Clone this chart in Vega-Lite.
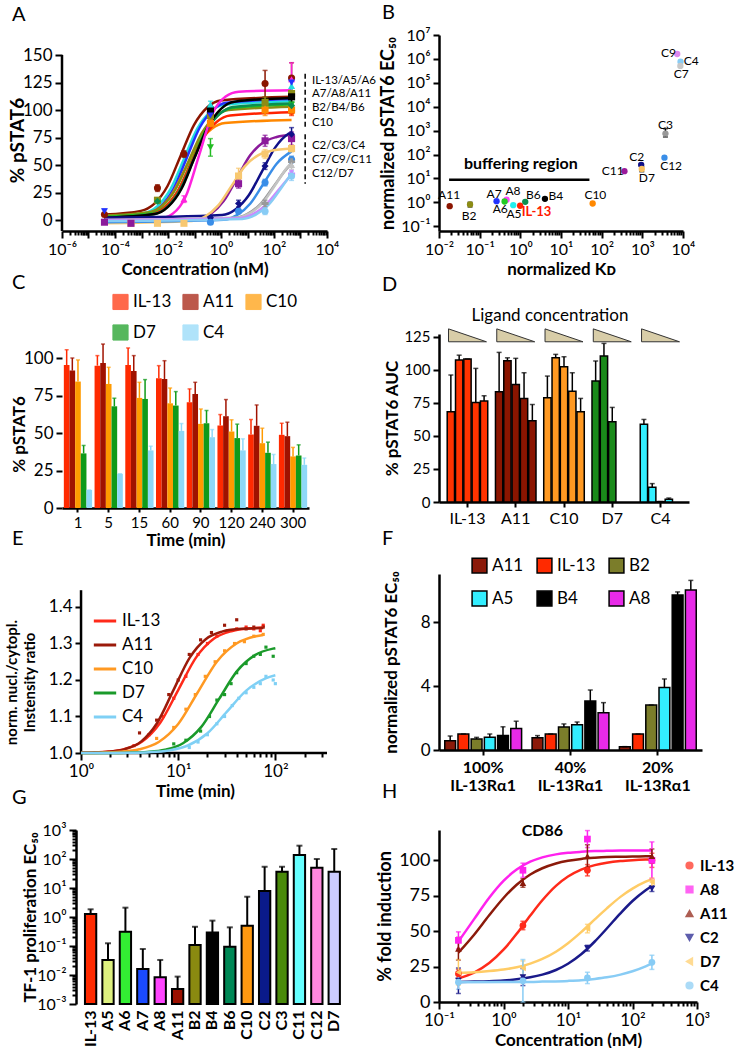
{
"$schema":"https://vega.github.io/schema/vega-lite/v6.json",
"padding":{"left":3,"top":3,"right":0,"bottom":0},
"config":{
 "font":"Lato",
 "view":{"stroke":null},
 "axis":{"domainColor":"#000","domainWidth":2.5,"tickColor":"#000","tickWidth":2,"tickSize":6,"labelColor":"#000","labelFontSize":16,"labelFont":"Lato","titleFont":"Lato","titleFontSize":17,"titleFontWeight":"bold","titleColor":"#000","grid":false,"labelPadding":3},
 "title":{"font":"Lato","fontSize":20,"fontWeight":"normal","anchor":"start","frame":"group","color":"#000"},
 "legend":{"labelFont":"Lato","labelFontSize":16,"labelColor":"#000"}
},
"resolve":{"scale":{"x":"independent","y":"independent","color":"independent","xOffset":"independent","shape":"independent","size":"independent"},"legend":{"color":"independent","shape":"independent","size":"independent"}},
"datasets":{
"one":[{}],
"aCurve":[
{"s":"A11","x":4e-5,"y":5},{"s":"A11","x":9.5e-4,"y":8.3},{"s":"A11","x":3e-3,"y":14.7},{"s":"A11","x":9.5e-3,"y":30.7},{"s":"A11","x":0.03,"y":58.5},{"s":"A11","x":0.095,"y":86.3},{"s":"A11","x":0.3,"y":102.3},{"s":"A11","x":0.95,"y":108.7},{"s":"A11","x":460,"y":112},
{"s":"A5","x":4e-5,"y":3},{"s":"A5","x":1.26e-3,"y":6.3},{"s":"A5","x":4e-3,"y":12.6},{"s":"A5","x":0.0126,"y":28.2},{"s":"A5","x":0.04,"y":55.5},{"s":"A5","x":0.126,"y":82.8},{"s":"A5","x":0.4,"y":98.4},{"s":"A5","x":1.26,"y":104.7},{"s":"A5","x":460,"y":108},
{"s":"A7","x":4e-5,"y":2},{"s":"A7","x":1.58e-3,"y":5.3},{"s":"A7","x":5e-3,"y":11.8},{"s":"A7","x":0.0158,"y":27.9},{"s":"A7","x":0.05,"y":56},{"s":"A7","x":0.158,"y":84.1},{"s":"A7","x":0.5,"y":100.2},{"s":"A7","x":1.58,"y":106.7},{"s":"A7","x":460,"y":110},
{"s":"C10","x":4e-5,"y":2},{"s":"C10","x":1.42e-3,"y":4.8},{"s":"C10","x":4.5e-3,"y":10.1},{"s":"C10","x":0.0142,"y":23.4},{"s":"C10","x":0.045,"y":46.5},{"s":"C10","x":0.142,"y":69.6},{"s":"C10","x":0.45,"y":82.9},{"s":"C10","x":1.42,"y":88.2},{"s":"C10","x":460,"y":91},
{"s":"B2","x":4e-5,"y":4},{"s":"B2","x":1.9e-3,"y":7.1},{"s":"B2","x":6e-3,"y":13},{"s":"B2","x":0.019,"y":27.8},{"s":"B2","x":0.06,"y":53.5},{"s":"B2","x":0.19,"y":79.2},{"s":"B2","x":0.6,"y":94},{"s":"B2","x":1.9,"y":99.9},{"s":"B2","x":460,"y":103},
{"s":"A6","x":4e-5,"y":3},{"s":"A6","x":2.5e-3,"y":6.2},{"s":"A6","x":8e-3,"y":12.3},{"s":"A6","x":0.025,"y":27.5},{"s":"A6","x":0.08,"y":54},{"s":"A6","x":0.25,"y":80.5},{"s":"A6","x":0.8,"y":95.7},{"s":"A6","x":2.5,"y":101.8},{"s":"A6","x":460,"y":105},
{"s":"IL-13","x":4e-5,"y":2},{"s":"IL-13","x":2.2e-3,"y":5},{"s":"IL-13","x":7e-3,"y":10.7},{"s":"IL-13","x":0.022,"y":25},{"s":"IL-13","x":0.07,"y":50},{"s":"IL-13","x":0.22,"y":75},{"s":"IL-13","x":0.7,"y":89.3},{"s":"IL-13","x":2.2,"y":95},{"s":"IL-13","x":460,"y":98},
{"s":"B6","x":4e-5,"y":2},{"s":"B6","x":2.8e-3,"y":5.2},{"s":"B6","x":9e-3,"y":11.5},{"s":"B6","x":0.028,"y":27},{"s":"B6","x":0.09,"y":54},{"s":"B6","x":0.28,"y":81},{"s":"B6","x":0.9,"y":96.5},{"s":"B6","x":2.8,"y":102.8},{"s":"B6","x":460,"y":106},
{"s":"B4","x":4e-5,"y":2},{"s":"B4","x":3.2e-3,"y":5.4},{"s":"B4","x":0.01,"y":11.9},{"s":"B4","x":0.032,"y":28.2},{"s":"B4","x":0.1,"y":56.5},{"s":"B4","x":0.32,"y":84.8},{"s":"B4","x":1,"y":101.1},{"s":"B4","x":3.2,"y":107.6},{"s":"B4","x":460,"y":111},
{"s":"A8","x":4e-5,"y":0},{"s":"A8","x":4.7e-3,"y":1.3},{"s":"A8","x":0.015,"y":5.7},{"s":"A8","x":0.047,"y":21.6},{"s":"A8","x":0.15,"y":59},{"s":"A8","x":0.47,"y":96.4},{"s":"A8","x":1.5,"y":112.3},{"s":"A8","x":4.7,"y":116.7},{"s":"A8","x":460,"y":118},
{"s":"C2","x":4e-5,"y":-2},{"s":"C2","x":0.126,"y":0.5},{"s":"C2","x":0.4,"y":5.3},{"s":"C2","x":1.26,"y":17.2},{"s":"C2","x":4,"y":38},{"s":"C2","x":12.6,"y":58.8},{"s":"C2","x":40,"y":70.7},{"s":"C2","x":126,"y":75.5},{"s":"C2","x":460,"y":77.5},
{"s":"C3","x":4e-5,"y":2},{"s":"C3","x":1.1,"y":4.6},{"s":"C3","x":3.5,"y":9.6},{"s":"C3","x":11,"y":22.2},{"s":"C3","x":35,"y":44},{"s":"C3","x":110,"y":65.8},{"s":"C3","x":350,"y":78.4},{"s":"C3","x":460,"y":80},
{"s":"D7","x":4e-5,"y":-3},{"s":"D7","x":0.079,"y":-0.9},{"s":"D7","x":0.25,"y":3.2},{"s":"D7","x":0.79,"y":13.3},{"s":"D7","x":2.5,"y":31},{"s":"D7","x":7.9,"y":48.7},{"s":"D7","x":25,"y":58.8},{"s":"D7","x":79,"y":62.9},{"s":"D7","x":460,"y":65},
{"s":"C4","x":4e-5,"y":-2},{"s":"C4","x":1.26,"y":0.2},{"s":"C4","x":4,"y":4.4},{"s":"C4","x":12.6,"y":14.8},{"s":"C4","x":40,"y":33},{"s":"C4","x":126,"y":51.2},{"s":"C4","x":460,"y":62.4},
{"s":"C7","x":4e-5,"y":0},{"s":"C7","x":3.2,"y":1.9},{"s":"C7","x":10,"y":5.6},{"s":"C7","x":32,"y":14.9},{"s":"C7","x":100,"y":31},{"s":"C7","x":316,"y":47.1},{"s":"C7","x":460,"y":51},
{"s":"C9","x":4e-5,"y":0},{"s":"C9","x":3.8,"y":2},{"s":"C9","x":12,"y":6},{"s":"C9","x":38,"y":15.8},{"s":"C9","x":120,"y":33},{"s":"C9","x":380,"y":50.2},{"s":"C9","x":460,"y":52},
{"s":"C11","x":4e-5,"y":0},{"s":"C11","x":4.7,"y":1.7},{"s":"C11","x":15,"y":5},{"s":"C11","x":47,"y":13.2},{"s":"C11","x":150,"y":27.5},{"s":"C11","x":460,"y":41.5},
{"s":"C12","x":4e-5,"y":-1},{"s":"C12","x":6.3,"y":0.9},{"s":"C12","x":20,"y":4.6},{"s":"C12","x":63,"y":13.9},{"s":"C12","x":200,"y":30},{"s":"C12","x":460,"y":42.4}
],
"aPts":[
{"s":"A11","x":4e-5,"y":5,"e":1},{"s":"A11","x":4e-3,"y":29,"e":3},{"s":"A11","x":0.04,"y":60,"e":3},{"s":"A11","x":46,"y":124,"e":12},{"s":"A11","x":460,"y":129,"e":14},
{"s":"B2","x":4e-3,"y":18,"e":2},{"s":"B2","x":0.4,"y":95,"e":4},{"s":"B2","x":46,"y":107,"e":5},{"s":"B2","x":460,"y":115,"e":5},
{"s":"IL-13","x":0.4,"y":98,"e":3},{"s":"IL-13","x":460,"y":99,"e":4},
{"s":"A6","x":0.4,"y":66,"e":8},{"s":"A6","x":460,"y":105,"e":5},
{"s":"D7","x":4e-4,"y":-3,"e":1},{"s":"D7","x":4e-3,"y":-3,"e":1},{"s":"D7","x":0.04,"y":-3,"e":1},{"s":"D7","x":4.6,"y":40,"e":7},{"s":"D7","x":46,"y":60,"e":4},{"s":"D7","x":460,"y":65,"e":3},
{"s":"C2","x":4e-5,"y":-2,"e":1},{"s":"C2","x":4e-4,"y":-3,"e":1},{"s":"C2","x":4.6,"y":33,"e":4},{"s":"C2","x":46,"y":72,"e":5},{"s":"C2","x":460,"y":74,"e":6},
{"s":"C3","x":0.4,"y":2,"e":1},{"s":"C3","x":4.6,"y":15,"e":3},{"s":"C3","x":46,"y":49,"e":3},{"s":"C3","x":460,"y":78,"e":6},
{"s":"C4","x":0.4,"y":-2,"e":1},{"s":"C4","x":4.6,"y":8,"e":2},{"s":"C4","x":46,"y":34,"e":3},{"s":"C4","x":460,"y":55,"e":3},
{"s":"A8","x":0.04,"y":19,"e":3},{"s":"A8","x":460,"y":128,"e":15},
{"s":"B4","x":0.4,"y":100,"e":4},{"s":"B4","x":460,"y":112,"e":5},
{"s":"C10","x":0.4,"y":88,"e":3},{"s":"C10","x":46,"y":100,"e":5},{"s":"C10","x":460,"y":100,"e":4},
{"s":"C7","x":46,"y":15,"e":3},{"s":"C7","x":460,"y":53,"e":4},
{"s":"C11","x":460,"y":42,"e":3},
{"s":"C12","x":46,"y":8,"e":3},{"s":"C12","x":460,"y":40,"e":4},
{"s":"A5","x":0.4,"y":105,"e":3},{"s":"A5","x":460,"y":122,"e":5},
{"s":"A7","x":4e-5,"y":8,"e":2},{"s":"A7","x":0.4,"y":95,"e":3},{"s":"A7","x":460,"y":125,"e":5},
{"s":"B6","x":4e-3,"y":17,"e":2},{"s":"B6","x":460,"y":104,"e":3},
{"s":"C9","x":460,"y":50,"e":4}
],
"aLab":[
{"t":"IL-13/A5/A6","x":2700,"y":126.5},{"t":"A7/A8/A11","x":2700,"y":114.5},{"t":"B2/B4/B6","x":2700,"y":101.5},{"t":"C10","x":2700,"y":88},{"t":"C2/C3/C4","x":2700,"y":67},{"t":"C7/C9/C11","x":2700,"y":55},{"t":"C12/D7","x":2700,"y":41.5}
],
"aDash":[{"x":1500,"y1":133,"y2":83},{"x":1500,"y1":78,"y2":33}],
"aAx":[{"x":1e-6,"y1":-10,"y2":150}],
"bPts":[
{"t":"A11","x":0.0183,"y":0.69},{"t":"B2","x":0.058,"y":0.81},{"t":"A7","x":0.26,"y":1.12},{"t":"A8","x":0.46,"y":1.28},{"t":"A6","x":0.41,"y":1.08},{"t":"A5","x":0.67,"y":0.76},{"t":"IL-13","x":0.99,"y":0.72},{"t":"B6","x":1.32,"y":1.05},{"t":"B4","x":4.03,"y":1.4},{"t":"C10","x":60,"y":0.89},{"t":"C11","x":363,"y":20},{"t":"C2","x":937,"y":37},{"t":"D7","x":970,"y":25},{"t":"C12","x":3500,"y":74},{"t":"C3","x":3700,"y":750},{"t":"C9","x":7200,"y":1600000},{"t":"C4","x":8700,"y":760000},{"t":"C7","x":8600,"y":510000}
],
"bErr":[{"x":0.058,"lo":0.63,"hi":1.0},{"x":970,"lo":19,"hi":31},{"x":3700,"lo":540,"hi":1200},{"x":937,"lo":34,"hi":42}],
"bLab":[
{"t":"A11","x":0.0177,"y":1.94},{"t":"B2","x":0.055,"y":0.28},{"t":"A7","x":0.227,"y":2.27},{"t":"A8","x":0.66,"y":3.1},{"t":"A6","x":0.32,"y":0.5},{"t":"A5","x":0.7,"y":0.31},{"t":"B6","x":2.1,"y":2.1},{"t":"B4","x":7.5,"y":1.76},{"t":"C10","x":70,"y":1.94},{"t":"C11","x":186,"y":20},{"t":"C2","x":730,"y":79},{"t":"D7","x":1290,"y":10.2},{"t":"C12","x":5100,"y":32},{"t":"C3","x":3700,"y":1780},{"t":"C9","x":4400,"y":1700000},{"t":"C4","x":16000,"y":800000},{"t":"C7","x":9100,"y":230000}
],
"bLab2":[{"t":"IL-13","x":2.5,"y":0.4}],
"bLab3":[{"t":"buffering region","x":1.03,"y":41}],
"bLine":[{"x":0.0177,"y":8.8},{"x":50,"y":8.8}],
"cBars":[
{"t":"1","s":"IL-13","v":95.3,"hi":105.5},{"t":"1","s":"A11","v":91.6,"hi":100},{"t":"1","s":"C10","v":84.3,"hi":98.7},{"t":"1","s":"D7","v":36.4,"hi":41.7},{"t":"1","s":"C4","v":12,"hi":12},
{"t":"5","s":"IL-13","v":94.9,"hi":101.6},{"t":"5","s":"A11","v":96.7,"hi":109.3},{"t":"5","s":"C10","v":82.7,"hi":93.8},{"t":"5","s":"D7","v":67.8,"hi":73.2},{"t":"5","s":"C4","v":22.8,"hi":22.8},
{"t":"15","s":"IL-13","v":95.3,"hi":106.7},{"t":"15","s":"A11","v":91.4,"hi":101.6},{"t":"15","s":"C10","v":73.4,"hi":83.8},{"t":"15","s":"D7","v":72.7,"hi":85.6},{"t":"15","s":"C4","v":38.4,"hi":41.2},
{"t":"60","s":"IL-13","v":86.5,"hi":94.9},{"t":"60","s":"A11","v":86,"hi":98.2},{"t":"60","s":"C10","v":69.8,"hi":80},{"t":"60","s":"D7","v":68.3,"hi":77.6},{"t":"60","s":"C4","v":51.4,"hi":56.3},
{"t":"90","s":"IL-13","v":70.5,"hi":79.4},{"t":"90","s":"A11","v":76,"hi":83.8},{"t":"90","s":"C10","v":56.1,"hi":66},{"t":"90","s":"D7","v":56.5,"hi":65},{"t":"90","s":"C4","v":47.2,"hi":52.3},
{"t":"120","s":"IL-13","v":55,"hi":62.3},{"t":"120","s":"A11","v":61.2,"hi":72.3},{"t":"120","s":"C10","v":51,"hi":58.8},{"t":"120","s":"D7","v":46.6,"hi":55.9},{"t":"120","s":"C4","v":38.4,"hi":46.1},
{"t":"240","s":"IL-13","v":49,"hi":59},{"t":"240","s":"A11","v":54.8,"hi":68.7},{"t":"240","s":"C10","v":43.2,"hi":53.2},{"t":"240","s":"D7","v":36.8,"hi":43.9},{"t":"240","s":"C4","v":29.3,"hi":35.7},
{"t":"300","s":"IL-13","v":48.8,"hi":56.5},{"t":"300","s":"A11","v":47.9,"hi":57.2},{"t":"300","s":"C10","v":34.4,"hi":40.4},{"t":"300","s":"D7","v":35,"hi":42.1},{"t":"300","s":"C4","v":28.8,"hi":33.3}
],
"dBars":[
{"g":"IL-13","i":1,"v":68.2,"hi":96},{"g":"IL-13","i":2,"v":107.3,"hi":111},{"g":"IL-13","i":3,"v":108.1,"hi":108.1},{"g":"IL-13","i":4,"v":75.3,"hi":101},{"g":"IL-13","i":5,"v":76.3,"hi":80.3},
{"g":"A11","i":1,"v":83.3,"hi":113.1},{"g":"A11","i":2,"v":106.8,"hi":109},{"g":"A11","i":3,"v":88.9,"hi":108.6},{"g":"A11","i":4,"v":78.3,"hi":97.7},{"g":"A11","i":5,"v":61.4,"hi":73.7},
{"g":"C10","i":1,"v":78.8,"hi":95.2},{"g":"C10","i":2,"v":109,"hi":111.6},{"g":"C10","i":3,"v":102.3,"hi":109.8},{"g":"C10","i":4,"v":83.8,"hi":97.7},{"g":"C10","i":5,"v":68.2,"hi":78.3},
{"g":"D7","i":1,"v":91.4,"hi":106.6},{"g":"D7","i":2,"v":110.4,"hi":119.9},{"g":"D7","i":3,"v":60.6,"hi":71.5},
{"g":"C4","i":1,"v":58.8,"hi":62.4},{"g":"C4","i":2,"v":11.1,"hi":13.9},{"g":"C4","i":3,"v":0.3,"hi":0.3},{"g":"C4","i":4,"v":2,"hi":3}
],
"dTri":[{"g":"IL-13","y":126},{"g":"A11","y":126},{"g":"C10","y":126},{"g":"D7","y":126},{"g":"C4","y":126}],
"dLab":[{"t":"Ligand concentration","g":"C10","y":140.6}],
"eAx":[{"x":1,"x2":1,"y":1.0,"y2":1.446},{"x":1,"x2":340,"y":1.0,"y2":1.0}],
"eCurve":[
{"s":"IL-13","x":1,"y":1.0007},{"s":"IL-13","x":1.19,"y":1.001},{"s":"IL-13","x":1.82,"y":1.0034},{"s":"IL-13","x":2.78,"y":1.0107},{"s":"IL-13","x":4.26,"y":1.0314},{"s":"IL-13","x":6.53,"y":1.0828},{"s":"IL-13","x":10,"y":1.1725},{"s":"IL-13","x":15.3,"y":1.262},{"s":"IL-13","x":23.4,"y":1.3136},{"s":"IL-13","x":36,"y":1.3344},{"s":"IL-13","x":55,"y":1.3416},{"s":"IL-13","x":75,"y":1.3435},
{"s":"A11","x":1,"y":1.0005},{"s":"A11","x":1.31,"y":1.001},{"s":"A11","x":1.92,"y":1.0034},{"s":"A11","x":2.82,"y":1.0106},{"s":"A11","x":4.14,"y":1.0312},{"s":"A11","x":6.07,"y":1.0823},{"s":"A11","x":8.91,"y":1.1715},{"s":"A11","x":13.1,"y":1.2607},{"s":"A11","x":19.2,"y":1.3118},{"s":"A11","x":28.2,"y":1.3324},{"s":"A11","x":41.4,"y":1.3396},{"s":"A11","x":75,"y":1.3423},
{"s":"C10","x":1,"y":1.0003},{"s":"C10","x":1.58,"y":1.001},{"s":"C10","x":2.51,"y":1.0033},{"s":"C10","x":3.98,"y":1.0102},{"s":"C10","x":6.31,"y":1.03},{"s":"C10","x":10,"y":1.0792},{"s":"C10","x":15.8,"y":1.165},{"s":"C10","x":25.1,"y":1.2508},{"s":"C10","x":39.8,"y":1.3},{"s":"C10","x":63.1,"y":1.3198},{"s":"C10","x":75,"y":1.3234},
{"s":"D7","x":1,"y":1.0},{"s":"D7","x":2.04,"y":1.0003},{"s":"D7","x":3.12,"y":1.0009},{"s":"D7","x":4.78,"y":1.0029},{"s":"D7","x":7.32,"y":1.0091},{"s":"D7","x":11.2,"y":1.0268},{"s":"D7","x":17.2,"y":1.0708},{"s":"D7","x":26.3,"y":1.1475},{"s":"D7","x":40.3,"y":1.2242},{"s":"D7","x":61.7,"y":1.2682},{"s":"D7","x":94.6,"y":1.2859},{"s":"D7","x":100,"y":1.2872},
{"s":"C4","x":1,"y":1.0},{"s":"C4","x":2,"y":1.0002},{"s":"C4","x":3.16,"y":1.0007},{"s":"C4","x":5.01,"y":1.0022},{"s":"C4","x":7.94,"y":1.007},{"s":"C4","x":12.6,"y":1.0205},{"s":"C4","x":20,"y":1.054},{"s":"C4","x":31.6,"y":1.1125},{"s":"C4","x":50.1,"y":1.171},{"s":"C4","x":79.4,"y":1.2045},{"s":"C4","x":100,"y":1.213}
],
"ePts":[
{"s":"IL-13","x":3.5,"y":1.02},{"s":"IL-13","x":5,"y":1.05},{"s":"IL-13","x":7,"y":1.1},{"s":"IL-13","x":9,"y":1.15},{"s":"IL-13","x":12,"y":1.21},{"s":"IL-13","x":16,"y":1.27},{"s":"IL-13","x":20,"y":1.3},{"s":"IL-13","x":25,"y":1.32},{"s":"IL-13","x":32,"y":1.335},{"s":"IL-13","x":40,"y":1.34},{"s":"IL-13","x":50,"y":1.345},{"s":"IL-13","x":60,"y":1.34},{"s":"IL-13","x":70,"y":1.335},{"s":"IL-13","x":75,"y":1.35},
{"s":"A11","x":4,"y":1.055},{"s":"A11","x":6,"y":1.09},{"s":"A11","x":8,"y":1.16},{"s":"A11","x":10,"y":1.2},{"s":"A11","x":13,"y":1.27},{"s":"A11","x":17,"y":1.31},{"s":"A11","x":22,"y":1.33},{"s":"A11","x":30,"y":1.35},{"s":"A11","x":40,"y":1.365},{"s":"A11","x":50,"y":1.34},{"s":"A11","x":60,"y":1.345},{"s":"A11","x":75,"y":1.345},
{"s":"C10","x":6,"y":1.04},{"s":"C10","x":9,"y":1.07},{"s":"C10","x":12,"y":1.12},{"s":"C10","x":15,"y":1.16},{"s":"C10","x":19,"y":1.21},{"s":"C10","x":24,"y":1.25},{"s":"C10","x":30,"y":1.28},{"s":"C10","x":38,"y":1.3},{"s":"C10","x":48,"y":1.305},{"s":"C10","x":60,"y":1.32},{"s":"C10","x":75,"y":1.325},
{"s":"D7","x":9,"y":1.025},{"s":"D7","x":12,"y":1.035},{"s":"D7","x":17,"y":1.06},{"s":"D7","x":21,"y":1.1},{"s":"D7","x":25,"y":1.145},{"s":"D7","x":30,"y":1.16},{"s":"D7","x":35,"y":1.19},{"s":"D7","x":40,"y":1.22},{"s":"D7","x":50,"y":1.245},{"s":"D7","x":60,"y":1.265},{"s":"D7","x":70,"y":1.27},{"s":"D7","x":80,"y":1.29},{"s":"D7","x":95,"y":1.265},
{"s":"C4","x":13,"y":1.015},{"s":"C4","x":16,"y":1.03},{"s":"C4","x":20,"y":1.05},{"s":"C4","x":25,"y":1.08},{"s":"C4","x":30,"y":1.1},{"s":"C4","x":36,"y":1.13},{"s":"C4","x":42,"y":1.15},{"s":"C4","x":50,"y":1.165},{"s":"C4","x":60,"y":1.18},{"s":"C4","x":70,"y":1.19},{"s":"C4","x":80,"y":1.21},{"s":"C4","x":95,"y":1.2},{"s":"C4","x":100,"y":1.19}
],
"fBars":[
{"g":"100%","s":"A11","v":0.58,"hi":0.875},{"g":"100%","s":"IL-13","v":1.0,"hi":1.0},{"g":"100%","s":"B2","v":0.69,"hi":0.79},{"g":"100%","s":"A5","v":0.8,"hi":1.0},{"g":"100%","s":"B4","v":0.9,"hi":1.45},{"g":"100%","s":"A8","v":1.35,"hi":1.8},
{"g":"40%","s":"A11","v":0.77,"hi":0.9},{"g":"40%","s":"IL-13","v":1.0,"hi":1.0},{"g":"40%","s":"B2","v":1.44,"hi":1.63},{"g":"40%","s":"A5","v":1.58,"hi":1.75},{"g":"40%","s":"B4","v":3.06,"hi":3.75},{"g":"40%","s":"A8","v":2.33,"hi":2.96},
{"g":"20%","s":"A11","v":0.21,"hi":0.21},{"g":"20%","s":"IL-13","v":1.0,"hi":1.0},{"g":"20%","s":"B2","v":2.81,"hi":2.81},{"g":"20%","s":"A5","v":3.9,"hi":4.44},{"g":"20%","s":"B4","v":9.69,"hi":9.88},{"g":"20%","s":"A8","v":10.0,"hi":10.6}
],
"gBars":[
{"k":"IL-13","v":1.27,"hi":1.84},{"k":"A5","v":0.033,"hi":0.124},{"k":"A6","v":0.31,"hi":2.1},{"k":"A7","v":0.016,"hi":0.079},{"k":"A8","v":0.0083,"hi":0.033},{"k":"A11","v":0.0033,"hi":0.0088},{"k":"B2","v":0.108,"hi":0.46},{"k":"B4","v":0.29,"hi":0.75},{"k":"B6","v":0.095,"hi":0.44},{"k":"C10","v":0.5,"hi":5.0},{"k":"C2","v":7.9,"hi":54},{"k":"C3","v":36.6,"hi":54},{"k":"C11","v":138,"hi":288},{"k":"C12","v":50,"hi":100},{"k":"D7","v":36.6,"hi":221}
],
"hCurve":[
{"s":"A8","x":0.2,"y":42.7},{"s":"A8","x":0.35,"y":58.5},{"s":"A8","x":0.6,"y":73.6},{"s":"A8","x":1,"y":85.5},{"s":"A8","x":1.6,"y":93.5},{"s":"A8","x":2.6,"y":99},{"s":"A8","x":4,"y":102.1},{"s":"A8","x":6.5,"y":104.2},{"s":"A8","x":10,"y":105.3},{"s":"A8","x":16,"y":106},{"s":"A8","x":26,"y":106.5},{"s":"A8","x":40,"y":106.7},{"s":"A8","x":65,"y":106.9},{"s":"A8","x":100,"y":107},{"s":"A8","x":160,"y":107},{"s":"A8","x":200,"y":107},
{"s":"A11","x":0.2,"y":34.8},{"s":"A11","x":0.35,"y":47.5},{"s":"A11","x":0.6,"y":61.2},{"s":"A11","x":1,"y":73.4},{"s":"A11","x":1.6,"y":82.8},{"s":"A11","x":2.6,"y":90},{"s":"A11","x":4,"y":94.4},{"s":"A11","x":6.5,"y":97.8},{"s":"A11","x":10,"y":99.7},{"s":"A11","x":16,"y":101},{"s":"A11","x":26,"y":101.8},{"s":"A11","x":40,"y":102.3},{"s":"A11","x":65,"y":102.5},{"s":"A11","x":100,"y":102.7},{"s":"A11","x":160,"y":102.8},{"s":"A11","x":200,"y":102.9},
{"s":"IL-13","x":0.2,"y":16.7},{"s":"IL-13","x":0.35,"y":20.8},{"s":"IL-13","x":0.6,"y":27.5},{"s":"IL-13","x":1,"y":36.9},{"s":"IL-13","x":1.6,"y":48.1},{"s":"IL-13","x":2.6,"y":61},{"s":"IL-13","x":4,"y":71.8},{"s":"IL-13","x":6.5,"y":82},{"s":"IL-13","x":10,"y":88.6},{"s":"IL-13","x":16,"y":93.5},{"s":"IL-13","x":26,"y":96.6},{"s":"IL-13","x":40,"y":98.3},{"s":"IL-13","x":65,"y":99.5},{"s":"IL-13","x":100,"y":100.1},{"s":"IL-13","x":160,"y":100.5},{"s":"IL-13","x":200,"y":100.6},
{"s":"D7","x":0.2,"y":20.6},{"s":"D7","x":0.35,"y":21},{"s":"D7","x":0.6,"y":21.8},{"s":"D7","x":1,"y":22.9},{"s":"D7","x":1.6,"y":24.5},{"s":"D7","x":2.6,"y":27.1},{"s":"D7","x":4,"y":30.4},{"s":"D7","x":6.5,"y":35.5},{"s":"D7","x":10,"y":41.5},{"s":"D7","x":16,"y":49.3},{"s":"D7","x":26,"y":58.3},{"s":"D7","x":40,"y":66.1},{"s":"D7","x":65,"y":74.2},{"s":"D7","x":100,"y":80},{"s":"D7","x":160,"y":84.9},{"s":"D7","x":200,"y":86.7},
{"s":"C2","x":0.2,"y":14.2},{"s":"C2","x":0.35,"y":14.4},{"s":"C2","x":0.6,"y":14.7},{"s":"C2","x":1,"y":15.2},{"s":"C2","x":1.6,"y":16},{"s":"C2","x":2.6,"y":17.4},{"s":"C2","x":4,"y":19.3},{"s":"C2","x":6.5,"y":22.6},{"s":"C2","x":10,"y":27},{"s":"C2","x":16,"y":33.7},{"s":"C2","x":26,"y":42.7},{"s":"C2","x":40,"y":51.9},{"s":"C2","x":65,"y":62.6},{"s":"C2","x":100,"y":71.3},{"s":"C2","x":160,"y":78.9},{"s":"C2","x":200,"y":81.9},
{"s":"C4","x":0.2,"y":14},{"s":"C4","x":1,"y":14.1},{"s":"C4","x":2.6,"y":14.2},{"s":"C4","x":4,"y":14.4},{"s":"C4","x":10,"y":14.9},{"s":"C4","x":16,"y":15.4},{"s":"C4","x":26,"y":16.3},{"s":"C4","x":40,"y":17.4},{"s":"C4","x":65,"y":19.3},{"s":"C4","x":100,"y":21.7},{"s":"C4","x":160,"y":25.1},{"s":"C4","x":200,"y":27.2}
],
"hPts":[
{"s":"IL-13","x":0.2,"y":20,"e":3},{"s":"IL-13","x":2,"y":54,"e":3},{"s":"IL-13","x":20,"y":93,"e":4},{"s":"IL-13","x":200,"y":100,"e":5},
{"s":"A8","x":0.2,"y":43.5,"e":6},{"s":"A8","x":2,"y":93,"e":5},{"s":"A8","x":20,"y":115,"e":6},{"s":"A8","x":200,"y":100,"e":13},
{"s":"A11","x":0.2,"y":37.6,"e":8},{"s":"A11","x":2,"y":84,"e":3},{"s":"A11","x":20,"y":103,"e":8},{"s":"A11","x":200,"y":103,"e":5},
{"s":"C2","x":0.2,"y":15,"e":9},{"s":"C2","x":2,"y":17.6,"e":6},{"s":"C2","x":20,"y":38,"e":2},{"s":"C2","x":200,"y":80,"e":2},
{"s":"D7","x":0.2,"y":21,"e":9},{"s":"D7","x":2,"y":24,"e":5},{"s":"D7","x":20,"y":51.8,"e":3},{"s":"D7","x":200,"y":84.7,"e":3},
{"s":"C4","x":0.2,"y":14,"e":5},{"s":"C4","x":2,"y":15,"e":15},{"s":"C4","x":20,"y":17,"e":4},{"s":"C4","x":200,"y":28,"e":5}
],
"hText":[{"t":"CD86","x":4,"y":121}]
},
"columns":2,
"align":"each",
"bounds":"flush",
"spacing":{"row":0,"column":97},
"concat":[
{"width":265,"height":196,
 "title":{"text":"A","offset":10,"dx":-50},
 "encoding":{
  "x":{"field":"x","type":"quantitative","scale":{"type":"log","domain":[1e-6,1e4]},"axis":{"values":[1e-6,2e-6,3e-6,4e-6,5e-6,6e-6,7e-6,8e-6,9e-6,1e-5,2e-5,3e-5,4e-5,5e-5,6e-5,7e-5,8e-5,9e-5,1e-4,2e-4,3e-4,4e-4,5e-4,6e-4,7e-4,8e-4,9e-4,1e-3,2e-3,3e-3,4e-3,5e-3,6e-3,7e-3,8e-3,9e-3,0.01,0.02,0.03,0.04,0.05,0.06,0.07,0.08,0.09,0.1,0.2,0.3,0.4,0.5,0.6,0.7,0.8,0.9,1,2,3,4,5,6,7,8,9,10,20,30,40,50,60,70,80,90,100,200,300,400,500,600,700,800,900,1000,2000,3000,4000,5000,6000,7000,8000,9000,10000],"labelExpr":"abs(log(datum.value)/LN10-round(log(datum.value)/LN10))<0.01 && round(log(datum.value)/LN10)%2==0 ? '10'+(datum.value<1?'⁻':'')+substring('⁰¹²³⁴⁵⁶⁷⁸⁹',abs(round(log(datum.value)/LN10)),abs(round(log(datum.value)/LN10))+1) : ''","tickSize":{"condition":{"test":"abs(log(datum.value)/LN10-round(log(datum.value)/LN10))<0.01","value":7},"value":4},"labelFlush":false,"labelOverlap":false,"title":"Concentration (nM)","labelFontSize":16,"titleFontSize":17}},
  "y":{"field":"y","type":"quantitative","scale":{"domain":[-10,168.2],"nice":false,"zero":false},"axis":{"values":[0,25,50,75,100,125,150],"title":"% pSTAT6","titleX":-35,"titleY":105,"domain":false,"tickSize":7,"labelFontSize":17,"titleFontSize":19}},
  "color":{"field":"s","type":"nominal","scale":{"domain":["IL-13","A5","A6","A7","A8","A11","B2","B4","B6","C10","C2","C3","D7","C4","C7","C9","C11","C12"],"range":["#ff2200","#22dddd","#22bb22","#2233ff","#ff22dd","#8b1500","#8c8c14","#000000","#0b8f50","#ff8800","#8b1a9b","#101088","#f8c870","#3a8ee8","#999999","#c4c4c4","#cc88ff","#88ccf5"]},"legend":null}
 },
 "layer":[
  {"data":{"name":"aAx"},"mark":{"type":"rule","strokeWidth":2.5},"encoding":{"y":{"field":"y1","type":"quantitative"},"y2":{"field":"y2"},"color":{"value":"#000"}}},
  {"data":{"name":"aCurve"},"mark":{"type":"line","interpolate":"monotone","strokeWidth":2.5}},
  {"data":{"name":"aPts"},"mark":{"type":"errorbar","ticks":true,"thickness":1.5},"encoding":{"yError":{"field":"e"}}},
  {"data":{"name":"aPts"},"mark":{"type":"point","filled":true,"size":50,"opacity":1},"encoding":{"shape":{"field":"s","type":"nominal","scale":{"domain":["IL-13","A5","A6","A7","A8","A11","B2","B4","B6","C10","C2","C3","D7","C4","C7","C9","C11","C12"],"range":["circle","triangle-up","triangle-down","triangle-down","triangle-up","circle","square","square","diamond","square","square","diamond","square","circle","cross","triangle-up","cross","circle"]},"legend":null}}},
  {"data":{"name":"aDash"},"mark":{"type":"rule","strokeDash":[5,3],"strokeWidth":1.5},"encoding":{"y":{"field":"y1","type":"quantitative"},"y2":{"field":"y2"},"color":{"value":"#000"}}},
  {"data":{"name":"aLab"},"mark":{"type":"text","align":"left","fontSize":11.5},"encoding":{"text":{"field":"t"},"color":{"value":"#000"}}}
 ]
},
{"width":244,"height":196,
 "title":{"text":"B","dx":-57,"offset":4},
 "encoding":{
  "x":{"field":"x","type":"quantitative","scale":{"type":"log","domain":[0.01,1e4]},"axis":{"values":[0.01,0.02,0.03,0.04,0.05,0.06,0.07,0.08,0.09,0.1,0.2,0.3,0.4,0.5,0.6,0.7,0.8,0.9,1,2,3,4,5,6,7,8,9,10,20,30,40,50,60,70,80,90,100,200,300,400,500,600,700,800,900,1000,2000,3000,4000,5000,6000,7000,8000,9000,10000],"labelExpr":"abs(log(datum.value)/LN10-round(log(datum.value)/LN10))<0.01 ? '10'+(datum.value<1?'⁻':'')+substring('⁰¹²³⁴⁵⁶⁷⁸⁹',abs(round(log(datum.value)/LN10)),abs(round(log(datum.value)/LN10))+1) : ''","tickSize":{"condition":{"test":"abs(log(datum.value)/LN10-round(log(datum.value)/LN10))<0.01","value":7},"value":4},"labelFlush":false,"labelOverlap":false,"title":"normalized Kᴅ","labelFontSize":16,"titleFontSize":17}},
  "y":{"field":"y","type":"quantitative","scale":{"type":"log","domain":[0.063,1e7],"nice":false},"axis":{"values":[0.1,1,10,100,1000,10000,100000,1000000,10000000],"labelExpr":"abs(log(datum.value)/LN10-round(log(datum.value)/LN10))<0.01 ? '10'+(datum.value<1?'⁻':'')+substring('⁰¹²³⁴⁵⁶⁷⁸⁹',abs(round(log(datum.value)/LN10)),abs(round(log(datum.value)/LN10))+1) : ''","labelOverlap":false,"title":"normalized pSTAT6 EC₅₀","titleX":-42,"tickSize":6,"labelFontSize":16,"titleFontSize":18}}
 },
 "layer":[
  {"data":{"name":"bLine"},"mark":{"type":"line","color":"#000","strokeWidth":2.5}},
  {"data":{"name":"bErr"},"mark":{"type":"errorbar","ticks":true,"color":"#000","thickness":1.5},"encoding":{"y":{"field":"lo","type":"quantitative"},"y2":{"field":"hi"}}},
  {"data":{"name":"bPts"},"mark":{"type":"point","filled":true,"size":40,"opacity":1},"encoding":{"color":{"field":"t","type":"nominal","scale":{"domain":["A11","B2","A7","A8","A6","A5","IL-13","B6","B4","C10","C11","C2","D7","C12","C3","C9","C4","C7"],"range":["#8b1500","#8c8c14","#2233ff","#ff44ff","#22cc22","#22eeee","#ff2200","#0b8f50","#000000","#ff8800","#9b1a9b","#101088","#f8c060","#3a8ee8","#999999","#dd88ee","#88ccf5","#c8c8c8"]},"legend":null}}},
  {"data":{"name":"bLab"},"mark":{"type":"text","fontSize":12,"color":"#000"},"encoding":{"text":{"field":"t"}}},
  {"data":{"name":"bLab2"},"mark":{"type":"text","fontSize":13,"fontWeight":"bold","color":"#ff1a00"},"encoding":{"text":{"field":"t"}}},
  {"data":{"name":"bLab3"},"mark":{"type":"text","fontSize":16,"fontWeight":"bold","color":"#000"},"encoding":{"text":{"field":"t"}}}
 ]
},
{"width":1,"height":103,"data":{"name":"one"},"mark":{"type":"point","opacity":0},"encoding":{}},
{"width":1,"height":103,"data":{"name":"one"},"mark":{"type":"point","opacity":0},"encoding":{}},
{"width":247,"height":174,
 "title":{"text":"C","dx":-50,"offset":0},
 "encoding":{
  "x":{"field":"t","type":"nominal","sort":null,"scale":{"domain":["1","5","15","60","90","120","240","300"],"paddingInner":0.08,"paddingOuter":0.06},"axis":{"labelAngle":0,"title":"Time (min)","domain":true,"labelFontSize":15,"titleFontSize":17,"tickSize":4,"titlePadding":2}},
  "y":{"field":"v","type":"quantitative","scale":{"domain":[0,116],"nice":false},"axis":{"values":[0,25,50,75,100],"title":"% pSTAT6","titleX":-34,"titleY":100,"domain":false,"labelFontSize":17,"titleFontSize":17,"tickSize":6}}
 },
 "layer":[
  {"data":{"name":"one"},"mark":{"type":"rule","strokeWidth":2.5,"color":"#000"},"encoding":{"x":{"datum":"1","bandPosition":-0.0655},"y":{"datum":0},"y2":{"datum":109.3}}},
  {"data":{"name":"cBars"},"mark":{"type":"bar"},"encoding":{"xOffset":{"field":"s","type":"nominal","sort":null,"scale":{"domain":["IL-13","A11","C10","D7","C4"],"paddingInner":0}},"color":{"field":"s","type":"nominal","scale":{"domain":["IL-13","A11","C10","D7","C4"],"range":["#ff2a00","#a01200","#ff9a00","#0f9a1a","#8fd8f8"]},"legend":{"orient":"none","legendX":50,"legendY":-41,"columns":3,"direction":"horizontal","title":null,"symbolType":"square","symbolSize":230,"symbolStrokeColor":"#000","symbolStrokeWidth":1,"labelFontSize":17,"columnPadding":8,"rowPadding":10}}}},
  {"data":{"name":"cBars"},"mark":{"type":"rule","strokeWidth":1.5},"encoding":{"xOffset":{"field":"s","type":"nominal","sort":null},"color":{"field":"s","type":"nominal"},"y2":{"field":"hi"}}},
  {"data":{"name":"cBars"},"mark":{"type":"tick","orient":"horizontal","size":4,"thickness":1.5},"encoding":{"xOffset":{"field":"s","type":"nominal","sort":null},"color":{"field":"s","type":"nominal"},"y":{"field":"hi","type":"quantitative"}}}
 ]
},
{"width":250,"height":168,
 "title":{"text":"D","dx":-57,"offset":12},
 "encoding":{
  "x":{"field":"g","type":"nominal","sort":null,"scale":{"domain":["IL-13","A11","C10","D7","C4"],"paddingInner":0.16,"paddingOuter":0.17},"axis":{"labelAngle":0,"title":null,"labelFontSize":16,"tickSize":5}},
  "y":{"field":"v","type":"quantitative","scale":{"domain":[0,127],"nice":false},"axis":{"values":[0,25,50,75,100,125],"title":"% pSTAT6 AUC","titleX":-38,"labelFontSize":15,"titleFontSize":17,"tickSize":6}}
 },
 "layer":[
  {"data":{"name":"dBars"},"mark":{"type":"bar","stroke":"#000","strokeWidth":1.5},"encoding":{"xOffset":{"field":"i","type":"nominal","scale":{"paddingInner":0.12}},"color":{"field":"g","type":"nominal","scale":{"domain":["IL-13","A11","C10","D7","C4"],"range":["#ff3300","#8b1500","#ff9922","#1a8a1a","#33eeff"]},"legend":null}}},
  {"data":{"name":"dBars"},"mark":{"type":"rule","color":"#000","strokeWidth":1.5},"encoding":{"xOffset":{"field":"i","type":"nominal"},"y2":{"field":"hi"}}},
  {"data":{"name":"dBars"},"mark":{"type":"tick","orient":"horizontal","size":5,"thickness":1.5,"color":"#000"},"encoding":{"xOffset":{"field":"i","type":"nominal"},"y":{"field":"hi","type":"quantitative"}}},
  {"data":{"name":"dTri"},"mark":{"type":"point","shape":"M-1,-0.34L1,0.34L-1,0.34Z","size":1440,"filled":true,"fill":"#d8cda8","stroke":"#333333","strokeWidth":1,"opacity":1},"encoding":{"y":{"field":"y","type":"quantitative"}}},
  {"data":{"name":"dLab"},"mark":{"type":"text","fontSize":17,"dx":-14,"color":"#000"},"encoding":{"y":{"field":"y","type":"quantitative"},"text":{"field":"t"}}}
 ]
},
{"width":1,"height":66,"data":{"name":"one"},"mark":{"type":"point","opacity":0},"encoding":{}},
{"width":1,"height":66,"data":{"name":"one"},"mark":{"type":"point","opacity":0},"encoding":{}},
{"width":265,"height":179,
 "title":{"text":"E","dx":-50,"offset":25},
 "encoding":{
  "x":{"field":"x","type":"quantitative","scale":{"type":"log","domain":[0.637,340]},"axis":{"values":[1,2,3,4,5,6,7,8,9,10,20,30,40,50,60,70,80,90,100,200,300],"domain":false,"labelExpr":"abs(log(datum.value)/LN10-round(log(datum.value)/LN10))<0.01 ? '10'+(datum.value<1?'⁻':'')+substring('⁰¹²³⁴⁵⁶⁷⁸⁹',abs(round(log(datum.value)/LN10)),abs(round(log(datum.value)/LN10))+1) : ''","tickSize":{"condition":{"test":"abs(log(datum.value)/LN10-round(log(datum.value)/LN10))<0.01","value":7},"value":4},"labelFlush":false,"labelOverlap":false,"title":"Time (min)","titleX":133,"labelFontSize":17,"titleFontSize":17}},
  "y":{"field":"y","type":"quantitative","scale":{"domain":[1.0,1.4904],"zero":false,"nice":false},"axis":{"values":[1.0,1.1,1.2,1.3,1.4],"format":".1f","domain":false,"offset":-19,"title":["norm. nucl./cytopl.","Instensity ratio"],"titleX":-62,"titleY":108,"titleLineHeight":18,"labelFontSize":17,"titleFontSize":15,"tickSize":6}},
  "color":{"field":"s","type":"nominal","scale":{"domain":["IL-13","A11","C10","D7","C4"],"range":["#ff2a1a","#9b1a0a","#ff9922","#1a9a2a","#7fd0f5"]},"legend":{"orient":"none","legendX":30,"legendY":34,"title":null,"symbolType":"stroke","symbolStrokeWidth":3,"symbolSize":500,"labelFontSize":17,"rowPadding":3,"labelOffset":4}}
 },
 "layer":[
  {"data":{"name":"eAx"},"mark":{"type":"rule","strokeWidth":2.5},"encoding":{"x2":{"field":"x2"},"y2":{"field":"y2"},"color":{"value":"#000"}}},
  {"data":{"name":"ePts"},"mark":{"type":"point","filled":true,"size":10,"shape":"square","opacity":1}},
  {"data":{"name":"eCurve"},"mark":{"type":"line","interpolate":"monotone","strokeWidth":2.5}}
 ]
},
{"width":263,"height":176,
 "title":{"text":"F","dx":-57,"offset":8},
 "data":{"name":"fBars"},
 "encoding":{
  "x":{"field":"g","type":"nominal","sort":null,"scale":{"paddingInner":0.12,"paddingOuter":0.066},"axis":{"labelAngle":0,"title":null,"labelExpr":"[datum.label, 'IL-13Rα1']","labelFontWeight":"bold","labelFontSize":16,"tickSize":5,"labelPadding":4}},
  "xOffset":{"field":"s","type":"nominal","sort":null,"scale":{"domain":["A11","IL-13","B2","A5","B4","A8"],"paddingInner":0.18}}
 },
 "layer":[
  {"mark":{"type":"bar","stroke":"#000","strokeWidth":1.5},"encoding":{"y":{"field":"v","type":"quantitative","scale":{"domain":[0,11],"nice":false},"axis":{"values":[0,2,4,6,8,10],"title":"normalized pSTAT6 EC₅₀","titleX":-39,"labelFontSize":17,"titleFontSize":17,"tickSize":6}},"color":{"field":"s","type":"nominal","scale":{"domain":["A11","IL-13","B2","A5","B4","A8"],"range":["#8b1a0a","#ff2a00","#7b7d2a","#33eeff","#000000","#e82ae8"]},"legend":{"orient":"none","legendX":32,"legendY":-17,"columns":3,"direction":"horizontal","title":null,"symbolType":"square","symbolSize":220,"symbolStrokeColor":"#000","symbolStrokeWidth":1.5,"labelFontSize":17,"columnPadding":10,"rowPadding":12}}}},
  {"mark":{"type":"rule","color":"#000","strokeWidth":1.5},"encoding":{"y":{"field":"v","type":"quantitative"},"y2":{"field":"hi"}}},
  {"mark":{"type":"tick","orient":"horizontal","size":5,"thickness":1.5,"color":"#000"},"encoding":{"y":{"field":"hi","type":"quantitative"}}}
 ]
},
{"width":1,"height":77,"data":{"name":"one"},"mark":{"type":"point","opacity":0},"encoding":{}},
{"width":1,"height":77,"data":{"name":"one"},"mark":{"type":"point","opacity":0},"encoding":{}},
{"width":280,"height":174,
 "title":{"text":"G","dx":-50,"offset":14},
 "encoding":{"x":{"field":"k","type":"nominal","sort":null,"scale":{"domain":["IL-13","A5","A6","A7","A8","A11","B2","B4","B6","C10","C2","C3","C11","C12","D7"],"paddingInner":0.35,"paddingOuter":0.72,"align":0.916},"axis":{"labelAngle":-90,"title":null,"domain":false,"labelFontWeight":"bold","labelFontSize":16,"ticks":false,"labelPadding":6}},
  "y":{"field":"v","type":"quantitative","scale":{"type":"log","domain":[0.001,1000]},"axis":{"values":[0.001,0.002,0.003,0.004,0.005,0.006,0.007,0.008,0.009,0.01,0.02,0.03,0.04,0.05,0.06,0.07,0.08,0.09,0.1,0.2,0.3,0.4,0.5,0.6,0.7,0.8,0.9,1,2,3,4,5,6,7,8,9,10,20,30,40,50,60,70,80,90,100,200,300,400,500,600,700,800,900,1000],"offset":-14,"labelExpr":"abs(log(datum.value)/LN10-round(log(datum.value)/LN10))<0.01 ? '10'+(datum.value<1?'⁻':'')+substring('⁰¹²³⁴⁵⁶⁷⁸⁹',abs(round(log(datum.value)/LN10)),abs(round(log(datum.value)/LN10))+1) : ''","tickSize":{"condition":{"test":"abs(log(datum.value)/LN10-round(log(datum.value)/LN10))<0.01","value":7},"value":4},"labelOverlap":false,"title":"TF-1 proliferation EC₅₀","titleX":-37,"labelFontSize":16,"titleFontSize":17}}},
 "layer":[
  {"data":{"name":"gBars"},"mark":{"type":"bar","stroke":"#000","strokeWidth":2},"encoding":{"y2":{"datum":0.001},"color":{"field":"k","type":"nominal","scale":{"domain":["IL-13","A5","A6","A7","A8","A11","B2","B4","B6","C10","C2","C3","C11","C12","D7"],"range":["#ff2a00","#ddf07f","#33ee33","#1a4aff","#ff44ff","#9b1000","#8a8a10","#000000","#008855","#ff9911","#0a1a8a","#4a8a0a","#66ffff","#ff88dd","#ccccff"]},"legend":null}}},
  {"data":{"name":"gBars"},"mark":{"type":"rule","color":"#000","strokeWidth":2},"encoding":{"y2":{"field":"hi"}}},
  {"data":{"name":"gBars"},"mark":{"type":"tick","orient":"horizontal","size":6,"thickness":2,"color":"#000"},"encoding":{"y":{"field":"hi","type":"quantitative"}}},
  {"data":{"name":"one"},"mark":{"type":"rule","strokeWidth":2.5,"color":"#000"},"encoding":{"x":{"datum":"IL-13","bandPosition":-0.8},"x2":{"datum":"D7","bandPosition":1.18},"y":{"datum":0.001}}}
 ]
},
{"width":258,"height":172,
 "title":{"text":"H","dx":-57,"offset":21},
 "encoding":{
  "x":{"field":"x","type":"quantitative","scale":{"type":"log","domain":[0.1,1000]},"axis":{"values":[0.1,0.2,0.3,0.4,0.5,0.6,0.7,0.8,0.9,1,2,3,4,5,6,7,8,9,10,20,30,40,50,60,70,80,90,100,200,300,400,500,600,700,800,900,1000],"labelExpr":"abs(log(datum.value)/LN10-round(log(datum.value)/LN10))<0.01 ? '10'+(datum.value<1?'⁻':'')+substring('⁰¹²³⁴⁵⁶⁷⁸⁹',abs(round(log(datum.value)/LN10)),abs(round(log(datum.value)/LN10))+1) : ''","tickSize":{"condition":{"test":"abs(log(datum.value)/LN10-round(log(datum.value)/LN10))<0.01","value":7},"value":4},"labelFlush":false,"labelOverlap":false,"title":"Concentration (nM)","labelFontSize":17,"titleFontSize":17}},
  "y":{"field":"y","type":"quantitative","scale":{"domain":[0,121.4],"nice":false},"axis":{"values":[0,25,50,75,100],"title":"% fold induction","titleX":-45,"labelFontSize":18,"titleFontSize":18,"tickSize":6}},
  "color":{"field":"s","type":"nominal","scale":{"domain":["IL-13","A8","A11","C2","D7","C4"],"range":["#ff2a1a","#ff22ee","#8b1a0a","#1a1a8a","#ffcc66","#88ccf5"]},"legend":{"orient":"none","legendX":243,"legendY":28,"title":null,"labelFontSize":15,"labelFontWeight":"bold","rowPadding":8,"labelOffset":3}}
 },
 "layer":[
  {"data":{"name":"hCurve"},"mark":{"type":"line","interpolate":"monotone","strokeWidth":2.5}},
  {"data":{"name":"hPts"},"mark":{"type":"errorbar","ticks":true,"thickness":1.5},"encoding":{"yError":{"field":"e"}}},
  {"data":{"name":"hPts"},"mark":{"type":"point","filled":true,"opacity":1},"encoding":{"shape":{"field":"s","type":"nominal","scale":{"domain":["IL-13","A8","A11","C2","D7","C4"],"range":["circle","square","triangle-up","triangle-down","triangle-left","circle"]},"legend":{"orient":"none","legendX":243,"legendY":28,"title":null,"labelFontSize":15,"labelFontWeight":"bold","rowPadding":8,"labelOffset":3}},"size":{"field":"s","type":"nominal","scale":{"domain":["IL-13","A8","A11","C2","D7","C4"],"range":[45,45,45,45,45,110]},"legend":{"orient":"none","legendX":243,"legendY":28,"title":null,"labelFontSize":15,"labelFontWeight":"bold","rowPadding":8,"labelOffset":3}}}},
  {"data":{"name":"hText"},"mark":{"type":"text","fontSize":16,"fontWeight":"bold"},"encoding":{"text":{"field":"t"},"color":{"value":"#000"}}}
 ]
}
]
}
